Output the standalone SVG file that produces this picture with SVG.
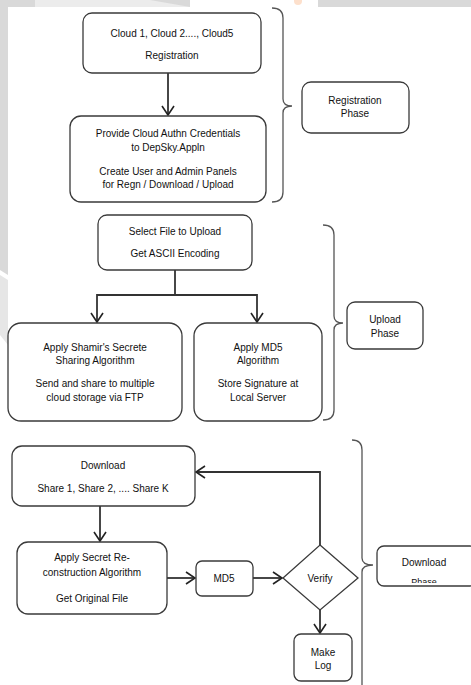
<svg xmlns="http://www.w3.org/2000/svg" width="471" height="685" viewBox="0 0 471 685">
<style>
.n{fill:#fff;stroke:#3a3a3a;stroke-width:1.3}
.t{font-family:"Liberation Sans",Arial,sans-serif;font-size:10px;fill:#111;text-anchor:middle;dominant-baseline:central}
.c{fill:none;stroke:#333;stroke-width:1.8}
.b{fill:none;stroke:#555;stroke-width:1.3}
</style>
<defs>
<marker id="ah" markerWidth="12" markerHeight="14" refX="10" refY="7" orient="auto" markerUnits="userSpaceOnUse">
<path d="M1,1 L10,7 L1,13" fill="none" stroke="#222" stroke-width="1.6"/>
</marker>
<clipPath id="dpclip"><rect x="377" y="546" width="94" height="37"/></clipPath>
</defs>
<rect width="471" height="685" fill="#fff"/>
<g id="background">
<rect x="0" y="0" width="471" height="7" fill="#d9d9d9"/>
<polygon points="35,0 150,0 190,7 35,7" fill="#ececec"/>
<rect x="190" y="0" width="128" height="7" fill="#fff"/>
<circle cx="298" cy="1" r="4" fill="#fde0cc"/>
<polygon points="0,0 8,0 8,275 0,270" fill="#d9d9d9"/>
<polygon points="0,275 8,280 8,345 0,335" fill="#e6e6e6"/>
</g>
<g id="connectors">
<line class="c" x1="168" y1="73" x2="168" y2="115" marker-end="url(#ah)"/>
<polyline class="c" points="175,270 175,295"/>
<polyline class="c" points="97,295 257,295"/>
<line class="c" x1="97" y1="294" x2="97" y2="322" marker-end="url(#ah)"/>
<line class="c" x1="257" y1="294" x2="257" y2="322" marker-end="url(#ah)"/>
<line class="c" x1="100" y1="506" x2="100" y2="541" marker-end="url(#ah)"/>
<line class="c" x1="167" y1="578" x2="195" y2="578" marker-end="url(#ah)"/>
<line class="c" x1="253" y1="578" x2="282" y2="578" marker-end="url(#ah)"/>
<polyline class="c" points="320,545 320,472 196,472" marker-end="url(#ah)"/>
<line class="c" x1="320" y1="610" x2="320" y2="633" marker-end="url(#ah)"/>
</g>
<g id="braces">
<path class="b" d="M272,8 Q283,8 283,18 L283,99 Q283,106 292,106 Q283,106 283,113 L283,192 Q283,202 272,202"/>
<path class="b" d="M323,225 Q334,225 334,235 L334,316 Q334,323 343,323 Q334,323 334,330 L334,410 Q334,420 323,420"/>
<path class="b" d="M352,440 Q362,440 362,450 L362,558 Q362,565 373,565 Q362,565 362,572 L362,685"/>
</g>
<g id="n1">
<rect class="n" x="83" y="13" width="178" height="60" rx="9"/>
<text class="t" x="172" y="33">Cloud 1, Cloud 2...., Cloud5</text>
<text class="t" x="172" y="55">Registration</text>
</g>
<g id="n2">
<rect class="n" x="70" y="116" width="196" height="86" rx="11"/>
<text class="t" x="168" y="133">Provide Cloud Authn Credentials</text>
<text class="t" x="168" y="147">to DepSky.Appln</text>
<text class="t" x="168" y="171">Create User and Admin Panels</text>
<text class="t" x="168" y="184">for Regn / Download / Upload</text>
</g>
<g id="regphase">
<rect class="n" x="302" y="82" width="107" height="51" rx="9"/>
<text class="t" x="355" y="100">Registration</text>
<text class="t" x="355" y="113">Phase</text>
</g>
<g id="n3">
<rect class="n" x="98" y="215" width="154" height="55" rx="9"/>
<text class="t" x="175" y="231">Select File to Upload</text>
<text class="t" x="175" y="253">Get ASCII Encoding</text>
</g>
<g id="n4">
<rect class="n" x="8" y="323" width="174" height="98" rx="13"/>
<text class="t" x="95" y="347">Apply Shamir's Secrete</text>
<text class="t" x="95" y="360">Sharing Algorithm</text>
<text class="t" x="95" y="383">Send and share to multiple</text>
<text class="t" x="95" y="397">cloud storage via FTP</text>
</g>
<g id="n5">
<rect class="n" x="194" y="323" width="128" height="98" rx="13"/>
<text class="t" x="258" y="347">Apply MD5</text>
<text class="t" x="258" y="360">Algorithm</text>
<text class="t" x="258" y="383">Store Signature at</text>
<text class="t" x="258" y="397">Local Server</text>
</g>
<g id="upphase">
<rect class="n" x="347" y="302" width="76" height="47" rx="8"/>
<text class="t" x="385" y="319">Upload</text>
<text class="t" x="385" y="333">Phase</text>
</g>
<g id="n6">
<rect class="n" x="12" y="446" width="183" height="60" rx="10"/>
<text class="t" x="103" y="465">Download</text>
<text class="t" x="103" y="488">Share 1, Share 2, .... Share K</text>
</g>
<g id="n7">
<rect class="n" x="17" y="542" width="150" height="72" rx="11"/>
<text class="t" x="92" y="557">Apply Secret Re-</text>
<text class="t" x="92" y="572">construction Algorithm</text>
<text class="t" x="92" y="598">Get Original File</text>
</g>
<g id="md5">
<rect class="n" x="196" y="561" width="57" height="35" rx="6"/>
<text class="t" x="224" y="578">MD5</text>
</g>
<g id="verify">
<polygon class="n" points="320,545 358,578 320,610 283,578"/>
<text class="t" x="320" y="578">Verify</text>
</g>
<g id="makelog">
<rect class="n" x="294" y="634" width="58" height="47" rx="7"/>
<text class="t" x="323" y="652">Make</text>
<text class="t" x="323" y="665">Log</text>
</g>
<g id="dlphase">
<rect class="n" x="377" y="546" width="100" height="40" rx="7"/>
<text class="t" x="424" y="562">Download</text>
<text class="t" x="424" y="582" clip-path="url(#dpclip)" style="font-size:9px">Phase</text>
</g>
</svg>
